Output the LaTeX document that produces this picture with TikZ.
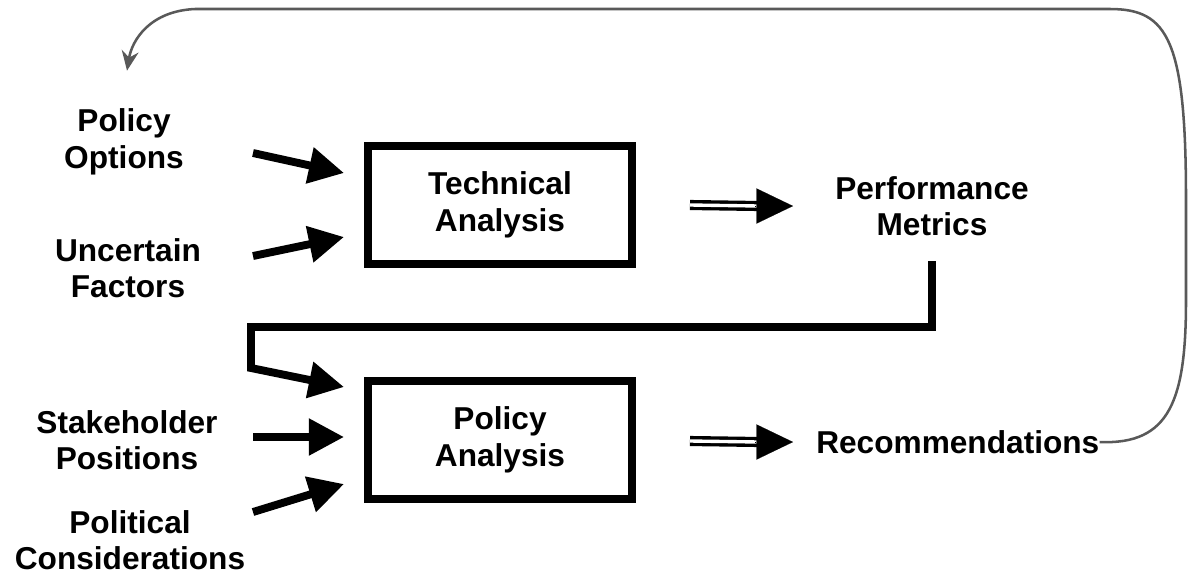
\documentclass[tikz,border=0pt]{standalone}
\usepackage{fontspec}
\setmainfont{Liberation Sans}
\usetikzlibrary{arrows.meta,positioning}

\begin{document}
\begin{tikzpicture}[x=0.025cm,y=-0.025cm,>={Triangle[length=25pt,width=25pt]},
    label node/.style={inner sep=0pt,align=center,font=\bfseries\fontsize{22.5}{26}\selectfont},
    box node/.style={draw,line width=5.6pt,minimum width=6.6cm,minimum height=2.95cm,align=center,font=\bfseries\fontsize{22.5}{26}\selectfont},
    inflow/.style={->,line width=5.6pt},
    twin line/.style={double,line width=2.4pt,double distance=2.4pt},
    twin head/.style={-{Triangle[length=26pt,width=25pt]},line width=0.1pt},
    feedback/.style={-{Stealth[length=14pt,width=12pt]},line width=1.8pt,black!65}]
    \useasboundingbox (0,0) rectangle (1190,575);

    \node[box node] (ta) at (500,205) {Technical\\Analysis};
    \node[box node] (pa) at (500,440) {Policy\\Analysis};

    \node[label node] (po) at (124,142) {Policy\\Options};
    \node[label node] (uf) at (128,268) {Uncertain\\Factors};
    \node[label node] (sp) at (127,440) {Stakeholder\\Positions};
    \node[label node] (pc) at (130,540) {Political\\Considerations};
    \node[label node,anchor=west] (pm) at (835,206) {Performance\\Metrics};
    \node[label node,anchor=west] (rc) at (816,442) {Recommendations};

    \coordinate (po-out) at (253,153);
    \coordinate (uf-out) at (253,256);
    \coordinate (sp-out) at (253,437);
    \coordinate (pc-out) at (253,512);
    \coordinate (bend1) at (251,327);
    \coordinate (bend2) at (251,368);

    \path[inflow]
        (po-out) edge ([shift={(-20,-32)}]ta.west)
        (uf-out) edge ([shift={(-20,32)}]ta.west)
        (sp-out) edge ([shift={(-20,-3)}]pa.west)
        (pc-out) edge ([shift={(-20,44)}]pa.west)
        ;
    \draw[inflow] ([shift={(0,25)}]pm.south) |- (bend1) -- (bend2) -- ([shift={(-20,-53)}]pa.west);

    % double shafts, solid heads
    \draw[twin line] ([shift={(54,0)}]ta.east) -- ([shift={(-76,0)}]pm.west);
    \draw[twin line] ([shift={(54,1)}]pa.east) -- ([shift={(-57,0)}]rc.west);
    \path[twin head]
        ([shift={(-80,0)}]pm.west) edge ([shift={(-42,0)}]pm.west)
        ([shift={(-61,0)}]rc.west) edge ([shift={(-23,0)}]rc.west)
        ;

    % loop back to the options
    \draw[feedback] (rc.east) .. controls (1170,445) and (1186,400) .. (1186,300) -- (1186,200)
        .. controls (1186,40) and (1168,9) .. (1110,9) -- (195,9)
        .. controls (150,11) and (132,40) .. ([shift={(3,-38)}]po.north);
\end{tikzpicture}
\end{document}
